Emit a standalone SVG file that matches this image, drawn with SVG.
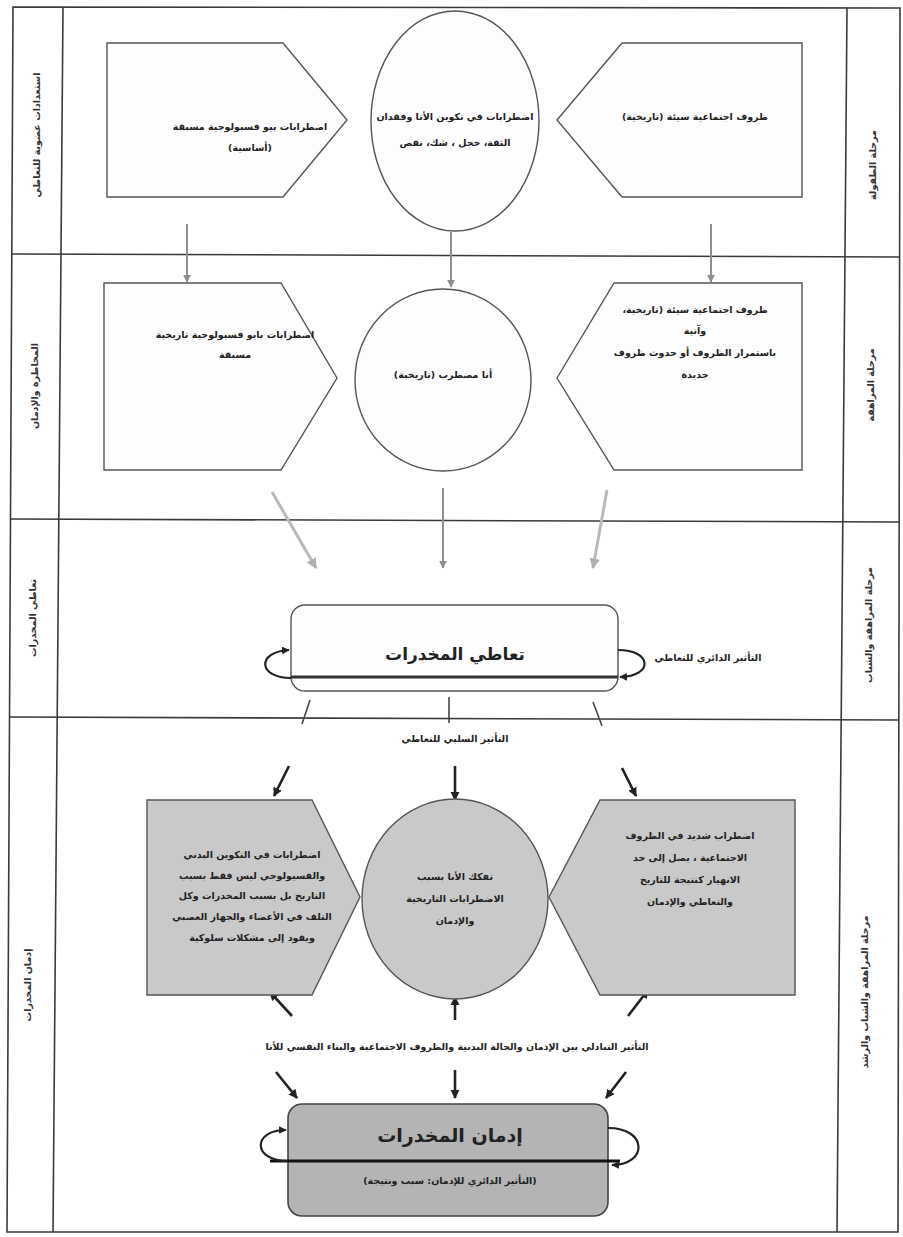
<svg xmlns="http://www.w3.org/2000/svg" width="903" height="1237" viewBox="0 0 903 1237">
<defs>
<style>
.frame{fill:none;stroke:#3a3a3a;stroke-width:1.6}
.box{fill:#fdfdfd;stroke:#555;stroke-width:1.4}
.gbox{fill:#c9c9c9;stroke:#555;stroke-width:1.4}
.dbox{fill:#b4b4b4;stroke:#444;stroke-width:1.6}
.t{font-family:"DejaVu Sans",sans-serif;font-weight:bold;font-size:9.5px;fill:#222;text-anchor:middle;direction:rtl;unicode-bidi:embed}
.lbl{font-family:"DejaVu Sans",sans-serif;font-weight:bold;font-size:9.5px;fill:#333;text-anchor:middle;direction:rtl;unicode-bidi:embed}
.big{font-family:"DejaVu Sans",sans-serif;font-weight:bold;font-size:17px;fill:#222;text-anchor:middle;direction:rtl;unicode-bidi:embed}
.ga{fill:none;stroke:#8f8f8f;stroke-width:2;marker-end:url(#mg)}
.la{fill:none;stroke:#b9b9b9;stroke-width:3;marker-end:url(#ml)}
.da{fill:none;stroke:#222;stroke-width:2.6;marker-end:url(#md)}
.loop{fill:none;stroke:#222;stroke-width:2.2;marker-end:url(#md)}
.tick{fill:none;stroke:#444;stroke-width:1.6}
</style>
<marker id="mg" viewBox="0 0 10 10" refX="9" refY="5" markerWidth="4" markerHeight="4" orient="auto"><path d="M0,0 L10,5 L0,10 z" fill="#8f8f8f"/></marker>
<marker id="ml" viewBox="0 0 10 10" refX="9" refY="5" markerWidth="3.5" markerHeight="3.5" orient="auto"><path d="M0,0 L10,5 L0,10 z" fill="#b0b0b0"/></marker>
<marker id="md" viewBox="0 0 10 10" refX="9" refY="5" markerWidth="3.5" markerHeight="3.5" orient="auto"><path d="M0,0 L10,5 L0,10 z" fill="#222"/></marker>
</defs>
<rect width="903" height="1237" fill="#ffffff"/>

<g id="frame">
<polygon class="frame" points="13,7 900,8 898,1232 7,1232"/>
<line class="frame" x1="63" y1="7" x2="53" y2="1232"/>
<line class="frame" x1="847" y1="8" x2="837" y2="1232"/>
<line class="frame" x1="12" y1="254" x2="900" y2="257"/>
<line class="frame" x1="10" y1="519" x2="899" y2="522"/>
<line class="frame" x1="9" y1="717" x2="899" y2="720"/>
</g>

<g id="lane-labels">
<text class="lbl" transform="translate(40,135) rotate(-90)">استعدادات عضوية للتعاطي</text>
<text class="lbl" transform="translate(38,386) rotate(-90)">المخاطرة والإدمان</text>
<text class="lbl" transform="translate(36,618) rotate(-90)">تعاطي المخدرات</text>
<text class="lbl" transform="translate(31,985) rotate(-90)">إدمان المخدرات</text>
<text class="lbl" transform="translate(876,165) rotate(-90)">مرحلة الطفولة</text>
<text class="lbl" transform="translate(874,385) rotate(-90)">مرحلة المراهقة</text>
<text class="lbl" transform="translate(872,625) rotate(-90)">مرحلة المراهقة والشباب</text>
<text class="lbl" transform="translate(868,992) rotate(-90)">مرحلة المراهقة والشباب والرشد</text>
</g>

<g id="connectors">
<line class="ga" x1="187" y1="224" x2="187" y2="282"/>
<line class="ga" x1="451" y1="232" x2="451" y2="287"/>
<line class="ga" x1="711" y1="224" x2="711" y2="282"/>
<line class="la" x1="272" y1="492" x2="316" y2="568"/>
<line class="ga" x1="443" y1="488" x2="443" y2="568"/>
<line class="la" x1="607" y1="490" x2="593" y2="568"/>
<line class="tick" x1="310" y1="700" x2="302" y2="724"/>
<line class="tick" x1="449" y1="697" x2="449" y2="723"/>
<line class="tick" x1="593" y1="702" x2="602" y2="726"/>
<line class="da" x1="289" y1="766" x2="274" y2="796"/>
<line class="da" x1="455" y1="766" x2="455" y2="800"/>
<line class="da" x1="622" y1="768" x2="636" y2="796"/>
<line class="da" x1="292" y1="1016" x2="270" y2="992"/>
<line class="da" x1="455" y1="1020" x2="455" y2="997"/>
<line class="da" x1="628" y1="1016" x2="648" y2="990"/>
<line class="da" x1="276" y1="1072" x2="297" y2="1098"/>
<line class="da" x1="455" y1="1070" x2="455" y2="1098"/>
<line class="da" x1="626" y1="1072" x2="606" y2="1098"/>
</g>

<g id="n-r1-left">
<polygon class="box" points="107,43 283,43 347,120 283,197 107,197"/>
<text class="t" x="250" y="130">اضطرابات بيو فسيولوجية مسبقة</text>
<text class="t" x="250" y="151">(أساسية)</text>
</g>
<g id="n-r1-center">
<ellipse class="box" cx="455" cy="121" rx="84" ry="110"/>
<text class="t" x="455" y="120">اضطرابات في تكوين الأنا وفقدان</text>
<text class="t" x="455" y="146">الثقة، خجل ، شك، نقص</text>
</g>
<g id="n-r1-right">
<polygon class="box" points="557,120 622,43 802,43 802,197 622,197"/>
<text class="t" x="695" y="120">ظروف اجتماعية سيئة (تاريخية)</text>
</g>

<g id="n-r2-left">
<polygon class="box" points="104,283 281,283 337,378 281,470 104,470"/>
<text class="t" x="235" y="338">اضطرابات بايو فسيولوجية تاريخية</text>
<text class="t" x="235" y="358">مسبقة</text>
</g>
<g id="n-r2-center">
<ellipse class="box" cx="443" cy="380" rx="88" ry="91"/>
<text class="t" x="443" y="378">أنا مضطرب (تاريخية)</text>
</g>
<g id="n-r2-right">
<polygon class="box" points="557,378 614,283 802,283 802,470 614,470"/>
<text class="t" x="695" y="313">ظروف اجتماعية سيئة (تاريخية،</text>
<text class="t" x="695" y="334">وآنية</text>
<text class="t" x="695" y="356">باستمرار الظروف أو حدوث ظروف</text>
<text class="t" x="695" y="378">جديدة</text>
</g>

<g id="n-r3-use">
<rect class="box" x="291" y="605" width="327" height="86" rx="14"/>
<line x1="291" y1="677" x2="618" y2="677" stroke="#333" stroke-width="3"/>
<text class="big" x="455" y="660">تعاطي المخدرات</text>
<path class="loop" d="M291,678 C258,678 256,652 289,650"/>
<path class="loop" d="M618,650 C652,650 654,676 620,677"/>
<text class="t" x="708" y="661">التأثير الدائري للتعاطي</text>
<text class="t" x="455" y="742">التأثير السلبي للتعاطي</text>
</g>

<g id="n-r4-left">
<polygon class="gbox" points="147,800 312,800 360,897 312,995 147,995"/>
<text class="t" x="252" y="858">اضطرابات في التكوين البدني</text>
<text class="t" x="252" y="879">والفسيولوجي ليس فقط بسبب</text>
<text class="t" x="252" y="899">التاريخ بل بسبب المخدرات وكل</text>
<text class="t" x="252" y="920">التلف في الأعضاء والجهاز العصبي</text>
<text class="t" x="252" y="941">ويقود إلى مشكلات سلوكية</text>
</g>
<g id="n-r4-center">
<ellipse class="gbox" cx="455" cy="899" rx="93" ry="100"/>
<text class="t" x="455" y="880">تفكك الأنا بسبب</text>
<text class="t" x="455" y="902">الاضطرابات التاريخية</text>
<text class="t" x="455" y="924">والإدمان</text>
</g>
<g id="n-r4-right">
<polygon class="gbox" points="549,897 600,800 795,800 795,995 600,995"/>
<text class="t" x="690" y="839">اضطراب شديد في الظروف</text>
<text class="t" x="690" y="861">الاجتماعية ، يصل إلى حد</text>
<text class="t" x="690" y="883">الانهيار كنتيجة للتاريخ</text>
<text class="t" x="690" y="905">والتعاطي والإدمان</text>
</g>

<g id="n-r4-interaction">
<text class="t" x="457" y="1050">التأثير التبادلي بين الإدمان والحالة البدنية والظروف الاجتماعية والبناء النفسي للأنا</text>
</g>

<g id="n-addiction">
<rect class="dbox" x="288" y="1104" width="320" height="112" rx="14"/>
<line x1="270" y1="1161" x2="620" y2="1161" stroke="#111" stroke-width="3.2"/>
<text class="big" x="450" y="1142" style="font-size:19px">إدمان المخدرات</text>
<text class="t" x="450" y="1184">(التأثير الدائري للإدمان: سبب ونتيجة)</text>
<path class="loop" d="M288,1161 C252,1161 252,1130 286,1130"/>
<path class="loop" d="M608,1128 C648,1128 648,1165 612,1165"/>
</g>
</svg>
